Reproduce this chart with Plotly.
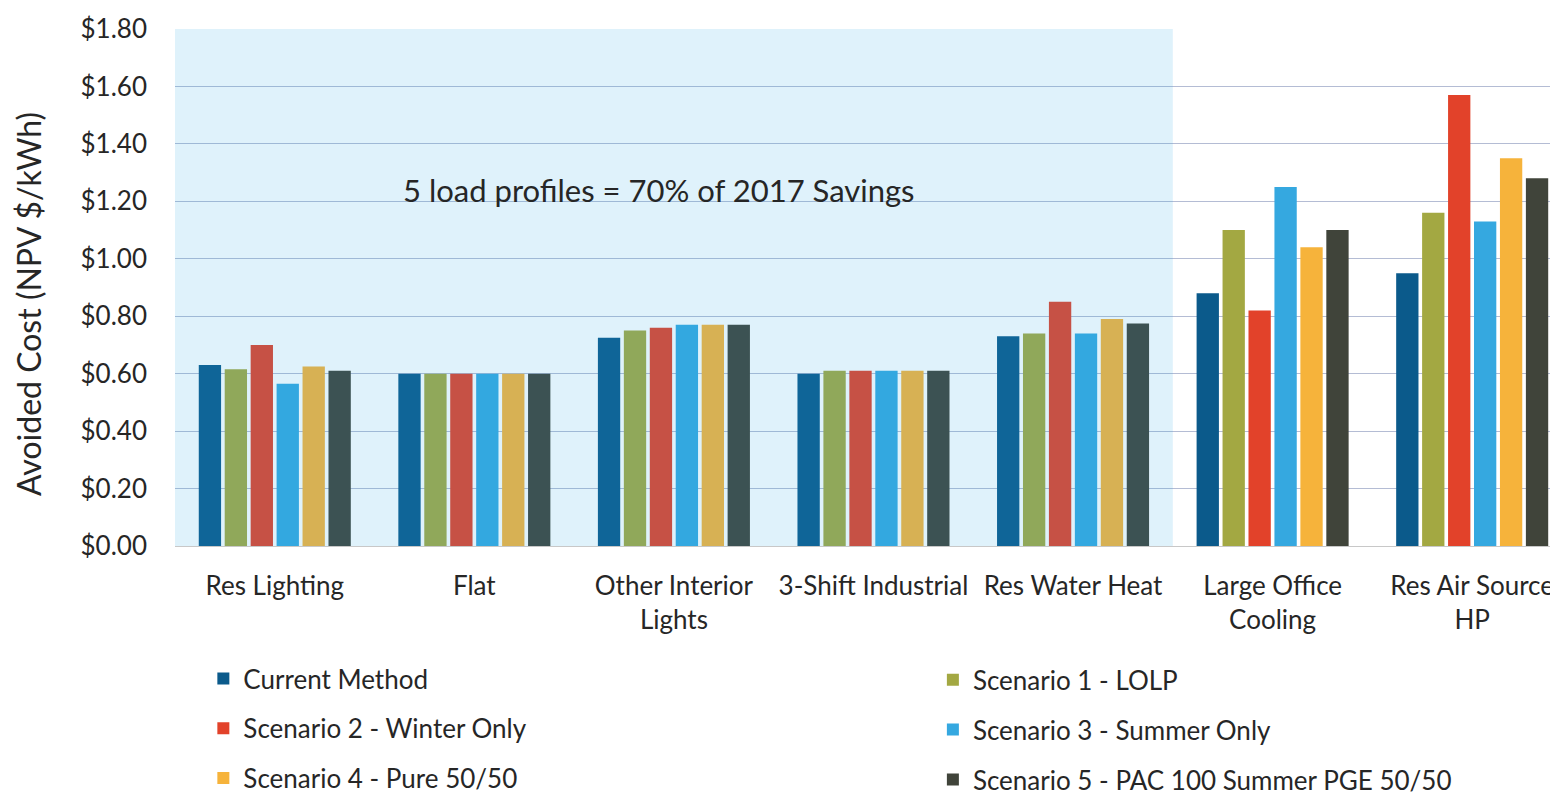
import plotly.graph_objects as go

categories = ["Res Lighting", "Flat", "Other Interior<br>Lights", "3-Shift Industrial",
              "Res Water Heat", "Large Office<br>Cooling", "Res Air Source<br>HP"]

current_method = [0.63, 0.60, 0.725, 0.60, 0.73, 0.88, 0.95]
scenario_1 = [0.615, 0.60, 0.75, 0.61, 0.74, 1.10, 1.16]
scenario_2 = [0.70, 0.60, 0.76, 0.61, 0.85, 0.82, 1.57]
scenario_3 = [0.565, 0.60, 0.77, 0.61, 0.74, 1.25, 1.13]
scenario_4 = [0.625, 0.60, 0.77, 0.61, 0.79, 1.04, 1.35]
scenario_5 = [0.61, 0.60, 0.77, 0.61, 0.775, 1.10, 1.28]

series_names = ["Current Method", "Scenario 1 - LOLP", "Scenario 2 - Winter Only",
                "Scenario 3 - Summer Only", "Scenario 4 - Pure 50/50",
                "Scenario 5 - PAC 100 Summer PGE 50/50"]
series_values = [current_method, scenario_1, scenario_2, scenario_3, scenario_4, scenario_5]
colors = ["#0b5a8b", "#a3a842", "#e2422a", "#35a8e0", "#f6b33b", "#40443a"]
legend_ids = ["legend", "legend2", "legend", "legend2", "legend", "legend2"]

FONT = "Lato"
TXT = "#262626"

fig = go.Figure()
for i, (name, vals) in enumerate(zip(series_names, series_values)):
    fig.add_trace(go.Bar(
        x=categories, y=vals, name=name,
        marker=dict(color=colors[i], line=dict(width=0)),
        legend=legend_ids[i], legendgroup=f"g{i}",
    ))

# translucent light-blue highlight over the first five load profiles
fig.add_shape(type="rect", xref="x", yref="y", x0=-0.5, x1=4.5, y0=0, y1=1.8,
              fillcolor="rgba(42,168,228,0.15)", line=dict(width=0), layer="above")

fig.add_annotation(x=1.924, y=1.24, xref="x", yref="y",
                   text="5 load profiles = 70% of 2017 Savings",
                   showarrow=False, font=dict(family=FONT, size=31, color=TXT))

# y-axis title (placed as rotated text to match the original's position)
fig.add_annotation(x=-0.1063, y=0.468, xref="paper", yref="paper",
                   text="Avoided Cost (NPV $/kWh)", textangle=-90,
                   showarrow=False, xanchor="center", yanchor="middle",
                   font=dict(family=FONT, size=32, color=TXT))

legend_common = dict(orientation="v", xanchor="left", yanchor="top",
                     font=dict(family=FONT, size=26, color=TXT),
                     bgcolor="rgba(0,0,0,0)", tracegroupgap=13,
                     itemclick=False, itemdoubleclick=False)

fig.update_layout(
    width=1550, height=789,
    margin=dict(l=167, r=0, t=21, b=251, autoexpand=False),
    paper_bgcolor="white", plot_bgcolor="white",
    barmode="group", bargap=0.22, bargroupgap=0.14,
    font=dict(family=FONT, size=26, color=TXT),
    legend=dict(x=0.0205, y=-0.211, **legend_common),
    legend2=dict(x=0.548, y=-0.2135, **legend_common),
    showlegend=True,
    xaxis=dict(
        range=[-0.5, 6.43], showgrid=False, showline=True, linecolor="#c8c8c8",
        linewidth=1, ticks="", tickfont=dict(family=FONT, size=26, color=TXT),
        ticklabelstandoff=17, automargin=False,
    ),
    yaxis=dict(
        range=[0, 1.8], dtick=0.2, tick0=0, tickprefix="$", tickformat=".2f",
        showgrid=True, gridcolor="#b4bcd4", gridwidth=1, zeroline=False,
        showline=False, ticks="", tickfont=dict(family=FONT, size=26, color=TXT),
        ticklabelstandoff=27, automargin=False,
    ),
)

fig.write_html("out.html")
